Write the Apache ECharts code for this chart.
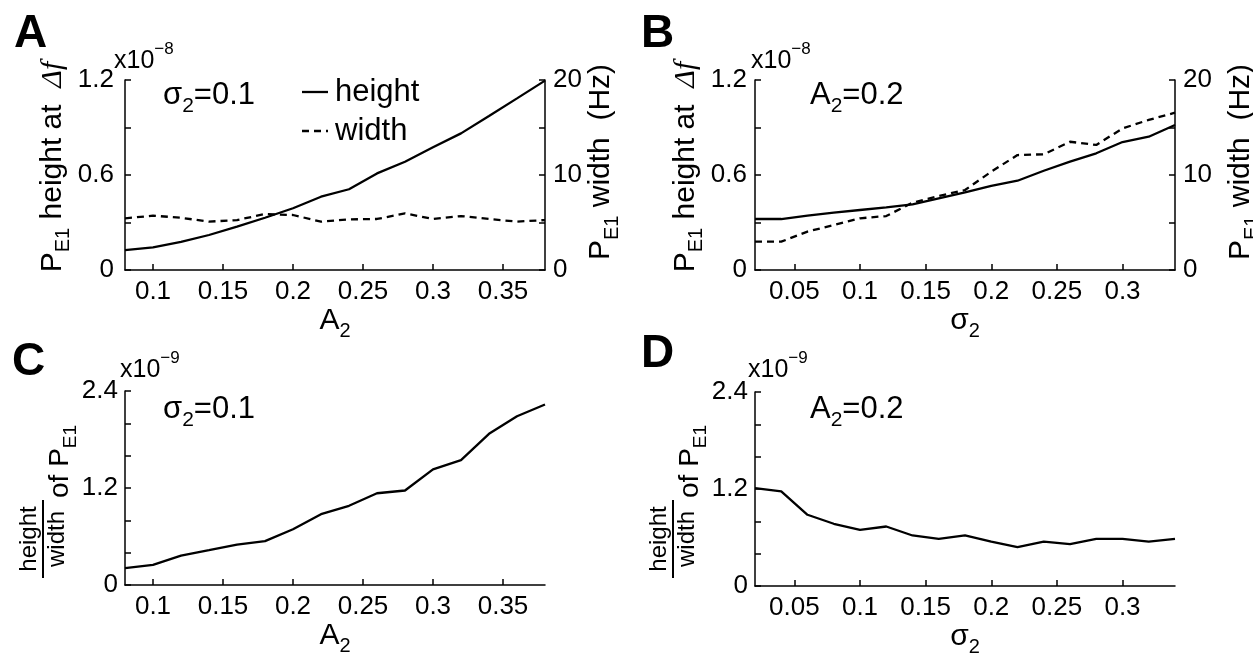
<!DOCTYPE html>
<html><head><meta charset="utf-8">
<script src="https://cdn.jsdelivr.net/npm/echarts@6/dist/echarts.min.js"></script>
<style>html,body{margin:0;padding:0;background:#fff}#c{width:1253px;height:653px}</style>
</head><body><div id="c"></div>
<script>
// ---------- data ----------
const xA = [0.08,0.10,0.12,0.14,0.16,0.18,0.20,0.22,0.24,0.26,0.28,0.30,0.32,0.34,0.36,0.38];
const heightA = [0.126,0.143,0.177,0.221,0.274,0.330,0.390,0.463,0.510,0.610,0.684,0.775,0.863,0.973,1.084,1.196]; // x1e-8
const widthA = [5.44,5.72,5.50,5.09,5.26,5.89,5.79,5.09,5.33,5.37,5.96,5.37,5.68,5.37,5.09,5.26]; // Hz
const xB = [0.02,0.04,0.06,0.08,0.10,0.12,0.14,0.16,0.18,0.20,0.22,0.24,0.26,0.28,0.30,0.32,0.34];
const heightB = [0.322,0.322,0.343,0.362,0.379,0.396,0.415,0.453,0.491,0.531,0.564,0.627,0.684,0.737,0.808,0.842,0.916];
const widthB = [2.98,2.98,4.04,4.74,5.44,5.68,7.09,7.79,8.42,10.35,12.10,12.18,13.50,13.16,14.90,15.80,16.56];
const ratioC = [0.209,0.250,0.363,0.430,0.500,0.543,0.689,0.876,0.980,1.135,1.169,1.430,1.545,1.870,2.087,2.233]; // x1e-9, vs xA
const ratioD = [1.212,1.171,0.881,0.770,0.695,0.736,0.625,0.583,0.625,0.550,0.480,0.550,0.517,0.583,0.583,0.550,0.583]; // x1e-9, vs xB
const xTicksA = [0.1,0.15,0.2,0.25,0.3,0.35];
const xTicksB = [0.05,0.1,0.15,0.2,0.25,0.3];
const yTicksH = [0,0.3,0.6,0.9,1.2], yLabelsH = [0,0.6,1.2];
const yTicksW = [0,5,10,15,20], yLabelsW = [0,10,20];
const yTicksR = [0,0.4,0.8,1.2,1.6,2.0,2.4], yLabelsR = [0,1.2,2.4];
const legendNames = ['height','width'];

// ---------- helpers ----------
const FF = 'Liberation Sans, Arial, sans-serif';
const pairs = (xs, ys) => xs.map((x, i) => [x, ys[i]]);
function richSub(F, key) {
  const c = key === 'fill' ? {fill:'#000'} : {color:'#000'};
  return {
    m: Object.assign({fontSize:F, lineHeight:Math.round(F*1.2), verticalAlign:'top', fontFamily:FF}, c),
    s: Object.assign({fontSize:Math.round(F*0.68), lineHeight:Math.round(F*0.5), verticalAlign:'bottom', fontFamily:FF}, c),
    i: Object.assign({fontSize:F, lineHeight:Math.round(F*1.2), verticalAlign:'top', fontFamily:'Liberation Serif, serif', fontStyle:'italic'}, c)
  };
}
function richSup(F) {
  return {
    m: {fontSize:F, lineHeight:Math.round(F*1.3), verticalAlign:'bottom', fontFamily:FF, fill:'#000'},
    p: {fontSize:Math.round(F*0.68), lineHeight:Math.round(F*0.68), verticalAlign:'top', fontFamily:FF, fill:'#000'}
  };
}
const fmt = v => String(+(+v).toFixed(2));
const axLine = {show:true, onZero:false, lineStyle:{color:'#000', width:1.5}};
function xAx(grid, min, max, ticks, name) {
  return {type:'value', gridIndex:grid, min, max, position:'bottom',
    name, nameLocation:'middle', nameGap:30,
    nameTextStyle:{rich:richSub(30)},
    axisLine:axLine,
    axisTick:{show:true, inside:true, length:6, customValues:ticks, lineStyle:{color:'#000', width:1.5}},
    axisLabel:{customValues:ticks, formatter:fmt, margin:9, fontSize:26, color:'#000', fontFamily:FF},
    splitLine:{show:false}};
}
function yAx(grid, pos, min, max, ticks, labels, name, gap, margin, pad) {
  return {type:'value', gridIndex:grid, min, max, position:pos,
    name, nameLocation:'middle', nameRotate:90, nameGap:gap,
    nameTextStyle:{rich:richSub(30), padding:pad || 0},
    axisLine:axLine,
    axisTick:{show:true, inside:true, length:6, customValues:ticks, lineStyle:{color:'#000', width:1.5}},
    axisLabel:{customValues:labels, formatter:fmt, margin:margin, fontSize:26, color:'#000', fontFamily:FF},
    splitLine:{show:false}};
}
function line(name, xi, yi, data, dashed) {
  return {type:'line', name, xAxisIndex:xi, yAxisIndex:yi, data, showSymbol:false, symbol:'none',
    lineStyle:{color:'#000', width:2.3, type: dashed ? [7,5] : 'solid'}, itemStyle:{color:'#000'}};
}
function txt(left, top, text, F, rich) {
  return {type:'text', left, top, style:{text, fontSize:F, fontFamily:FF, fill:'#000', rich}};
}
function letter(left, top, t) {
  return {type:'text', left, top, style:{text:t, fontSize:46, fontWeight:'bold', fontFamily:FF, fill:'#000'}};
}
function fracTitle(x) {
  return {type:'group', x, y:578, rotation:Math.PI/2, children:[
    {type:'line', shape:{x1:0, y1:0, x2:78, y2:0}, style:{stroke:'#000', lineWidth:2}},
    {type:'text', x:39, y:-2, style:{text:'height', fontSize:24, fontFamily:FF, fill:'#000', align:'center', verticalAlign:'bottom'}},
    {type:'text', x:39, y:2, style:{text:'width', fontSize:24, fontFamily:FF, fill:'#000', align:'center', verticalAlign:'top'}},
    {type:'text', x:80, y:20, style:{text:'{m|of P}{s|E1}', fontSize:28, fontFamily:FF, fill:'#000', align:'left', verticalAlign:'middle', rich:richSub(28, 'fill')}}
  ]};
}
const hTitle = '{m|P}{s|E1}{m| height at  }{i|Δ}{i|f}';
const wTitle = '{m|P}{s|E1}{m| width  (Hz)}';

const option = {
  animation:false,
  backgroundColor:'#fff',
  grid:[
    {left:125, top:80, width:420, height:190, outerBoundsMode:'none'},
    {left:755, top:80, width:420, height:190, outerBoundsMode:'none'},
    {left:125, top:391, width:420, height:194, outerBoundsMode:'none'},
    {left:755, top:392, width:420, height:194, outerBoundsMode:'none'}
  ],
  xAxis:[
    xAx(0, 0.08, 0.38, xTicksA, '{m|A}{s|2}'),
    xAx(1, 0.02, 0.34, xTicksB, '{m|σ}{s|2}'),
    xAx(2, 0.08, 0.38, xTicksA, '{m|A}{s|2}'),
    xAx(3, 0.02, 0.34, xTicksB, '{m|σ}{s|2}')
  ],
  yAxis:[
    yAx(0, 'left', 0, 1.2, yTicksH, yLabelsH, hTitle, 46, 11, [0,0,0,16]),
    yAx(0, 'right', 0, 20, yTicksW, yLabelsW, wTitle, 41, 8, [0,0,0,26]),
    yAx(1, 'left', 0, 1.2, yTicksH, yLabelsH, hTitle, 48, 8, [0,0,0,16]),
    yAx(1, 'right', 0, 20, yTicksW, yLabelsW, wTitle, 51, 8, [0,0,0,26]),
    yAx(2, 'left', 0, 2.4, yTicksR, yLabelsR, '', 50, 7),
    yAx(3, 'left', 0, 2.4, yTicksR, yLabelsR, '', 50, 7)
  ],
  series:[
    line(legendNames[0], 0, 0, pairs(xA, heightA), false),
    line(legendNames[1], 0, 1, pairs(xA, widthA), true),
    line(legendNames[0], 1, 2, pairs(xB, heightB), false),
    line(legendNames[1], 1, 3, pairs(xB, widthB), true),
    line('ratio', 2, 4, pairs(xA, ratioC), false),
    line('ratio', 3, 5, pairs(xB, ratioD), false)
  ],
  graphic:[
    letter(14, 11, 'A'), letter(641, 11, 'B'), letter(12, 339, 'C'), letter(641, 331, 'D'),
    txt(114, 41, '{m|x10}{p|−8}', 25, richSup(25)),
    txt(751, 41, '{m|x10}{p|−8}', 25, richSup(25)),
    txt(120, 350, '{m|x10}{p|−9}', 25, richSup(25)),
    txt(748, 350, '{m|x10}{p|−9}', 25, richSup(25)),
    txt(163, 80, '{m|σ}{s|2}{m|=0.1}', 31, richSub(31, 'fill')),
    txt(810, 80, '{m|A}{s|2}{m|=0.2}', 31, richSub(31, 'fill')),
    txt(163, 394, '{m|σ}{s|2}{m|=0.1}', 31, richSub(31, 'fill')),
    txt(810, 394, '{m|A}{s|2}{m|=0.2}', 31, richSub(31, 'fill')),
    // legend of panel A
    {type:'line', shape:{x1:302, y1:92, x2:328, y2:92}, style:{stroke:'#000', lineWidth:2.3}},
    {type:'line', shape:{x1:302, y1:131, x2:328, y2:131}, style:{stroke:'#000', lineWidth:2.3, lineDash:[7,5]}},
    {type:'text', x:335, y:92, style:{text:legendNames[0], fontSize:31, fontFamily:FF, fill:'#000', verticalAlign:'middle'}},
    {type:'text', x:335, y:131, style:{text:legendNames[1], fontSize:31, fontFamily:FF, fill:'#000', verticalAlign:'middle'}},
    fracTitle(43), fracTitle(673)
  ]
};
const chart = echarts.init(document.getElementById('c'), null, {renderer:'canvas'});
chart.setOption(option);
</script></body></html>
